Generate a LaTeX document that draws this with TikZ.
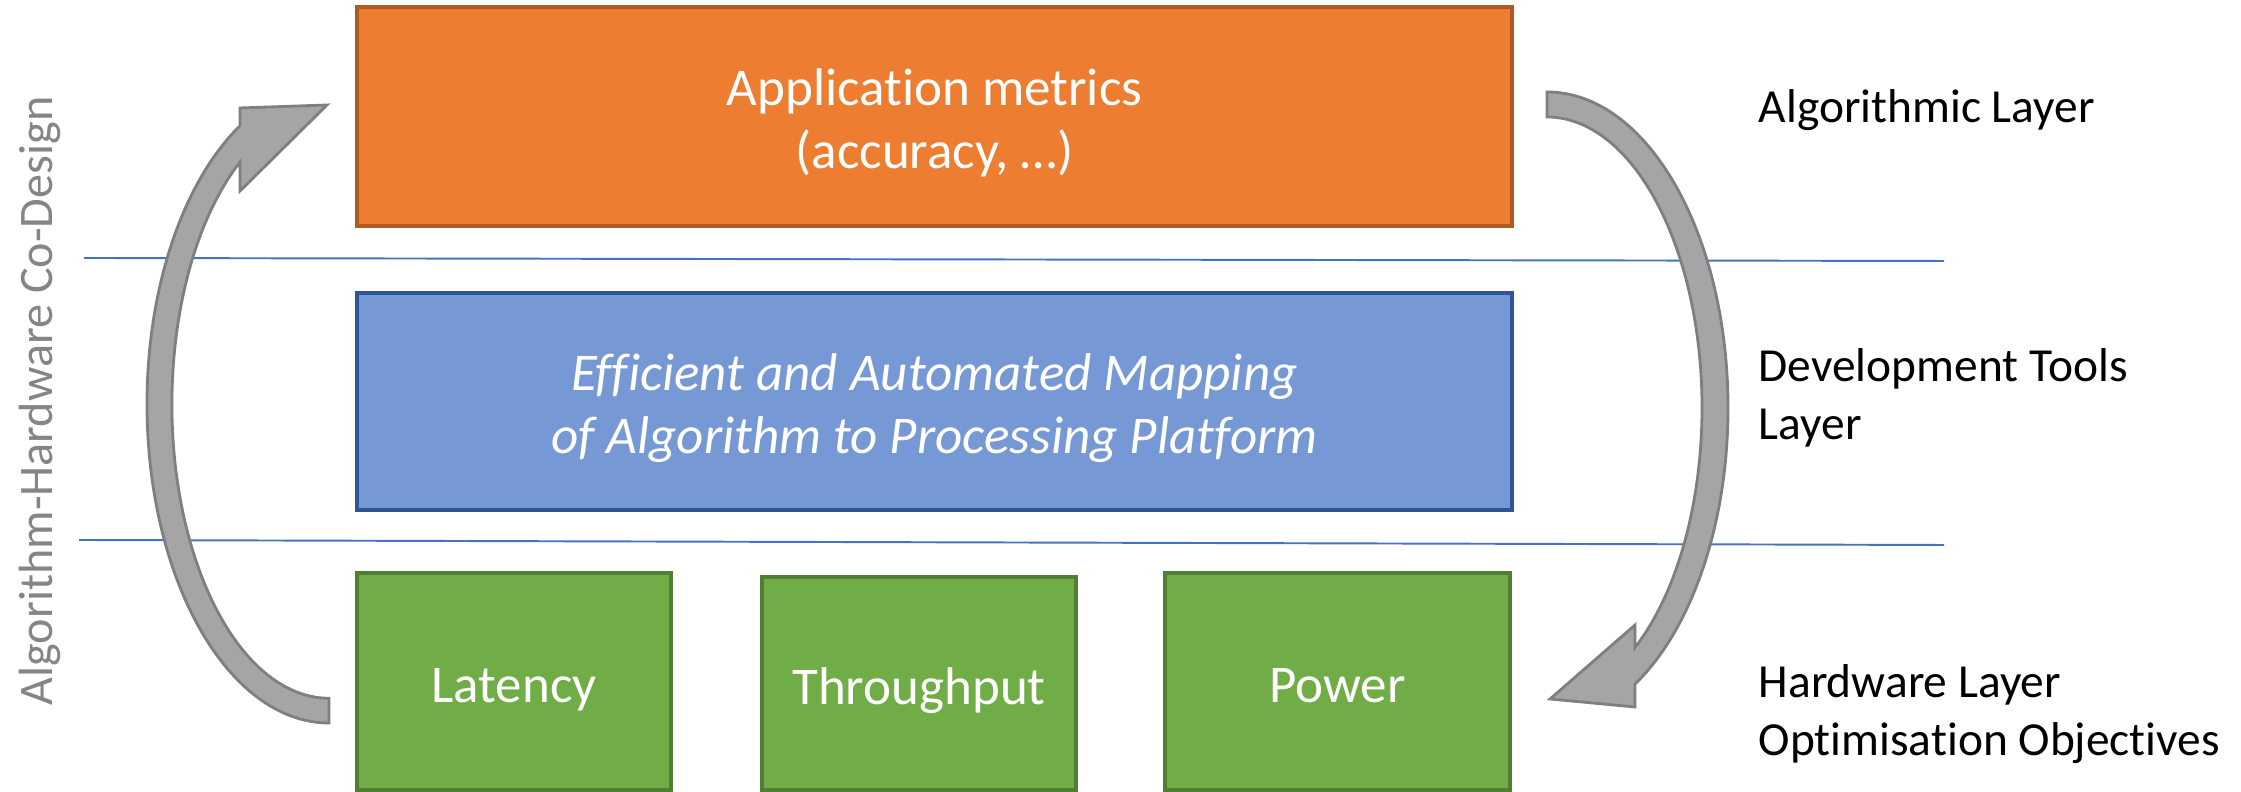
\documentclass[tikz,border=0pt]{standalone}
\usepackage{fontspec}
\setmainfont{Carlito}[Ligatures=NoCommon]

\definecolor{orangefill}{HTML}{ED7D31}
\definecolor{orangeedge}{HTML}{AE5A21}
\definecolor{bluefill}{HTML}{7698D4}
\definecolor{blueedge}{HTML}{2F5597}
\definecolor{greenfill}{HTML}{70AD47}
\definecolor{greenedge}{HTML}{507E32}
\definecolor{arrowgray}{HTML}{A5A5A5}
\definecolor{arrowedge}{HTML}{7F7F7F}
\definecolor{sepblue}{HTML}{4472C4}
\definecolor{labelgray}{HTML}{858585}

% box caption: centred lines, set slightly below the geometric centre
\newcommand{\sinktext}[1]{\raisebox{-2.2pt}[\height][\depth]{\begin{tabular}{@{}c@{}}#1\end{tabular}}}

\tikzset{
  box/.style={draw, line width=0.9pt, inner sep=0pt, text=white, align=center,
    font=\fontsize{15.1}{18.2}\selectfont},
  layerlabel/.style={inner sep=0pt, align=left, text=black,
    font=\fontsize{13.5}{16.5}\selectfont},
  separator/.style={draw=sepblue, line width=0.55pt},
  bigarrow/.style={fill=arrowgray, draw=arrowedge, line width=0.8pt, line join=miter}
}

\begin{document}
\begin{tikzpicture}[x=1cm,y=1cm]
\useasboundingbox (0,0) rectangle (22.41,7.92);

% layer separators
\coordinate (s1a) at (0.84,5.34);
\coordinate (s1b) at (19.44,5.31);
\coordinate (s2a) at (0.79,2.52);
\coordinate (s2b) at (19.44,2.47);
\draw[separator] (s1a) -- (s1b);
\draw[separator] (s2a) -- (s2b);

% upward curved arrow on the left (hardware -> algorithm)
\path[bigarrow] (3.29,0.69)
  arc[start angle=270, end angle=119.3, x radius=1.82, y radius=3.19]
  -- (2.40,6.84) -- (3.27,6.87) -- (2.40,6.01) -- (2.40,6.30)
  arc[start angle=124.5, end angle=270, x radius=1.57, y radius=2.94]
  -- cycle;

% downward curved arrow on the right (algorithm -> hardware)
\path[bigarrow] (15.47,7.00)
  arc[start angle=90, end angle=-60.9, x radius=1.81, y radius=3.16]
  -- (16.35,0.85) -- (15.50,0.93) -- (16.35,1.67) -- (16.35,1.445)
  arc[start angle=-55.4, end angle=90, x radius=1.55, y radius=2.91]
  -- cycle;

% layer boxes
\node[box, fill=orangefill, draw=orangeedge, minimum width=11.55cm, minimum height=2.19cm]
  (app) at (9.345,6.755) {\sinktext{Application metrics\\(accuracy, …)}};
\node[box, fill=bluefill, draw=blueedge, minimum width=11.55cm, minimum height=2.17cm,
  font=\fontsize{15.1}{18.2}\selectfont\itshape]
  (map) at (9.345,3.905) {\sinktext{Efficient and Automated Mapping\\of Algorithm to Processing Platform}};
\node[box, fill=greenfill, draw=greenedge, minimum width=3.14cm, minimum height=2.17cm]
  (lat) at (5.14,1.105) {\sinktext{Latency}};
\node[box, fill=greenfill, draw=greenedge, minimum width=3.14cm, minimum height=2.13cm]
  (thr) at (9.19,1.085) {\sinktext{Throughput}};
\node[box, fill=greenfill, draw=greenedge, minimum width=3.45cm, minimum height=2.17cm]
  (pow) at (13.375,1.105) {\sinktext{Power}};

% layer names
\node[layerlabel, anchor=base west] (alg) at (17.58,6.69) {Algorithmic Layer};
\node[layerlabel, anchor=west] (dev) at (17.58,3.94) {Development Tools\\Layer};
\node[layerlabel, anchor=west] (hw) at (17.58,0.775) {Hardware Layer\\Optimisation Objectives};

% vertical title
\node[rotate=90, anchor=base, inner sep=0pt, text=labelgray,
  font=\fontsize{13.7}{16}\selectfont] (codesign) at (0.52,3.91) {Algorithm-Hardware Co-Design};
\end{tikzpicture}
\end{document}
